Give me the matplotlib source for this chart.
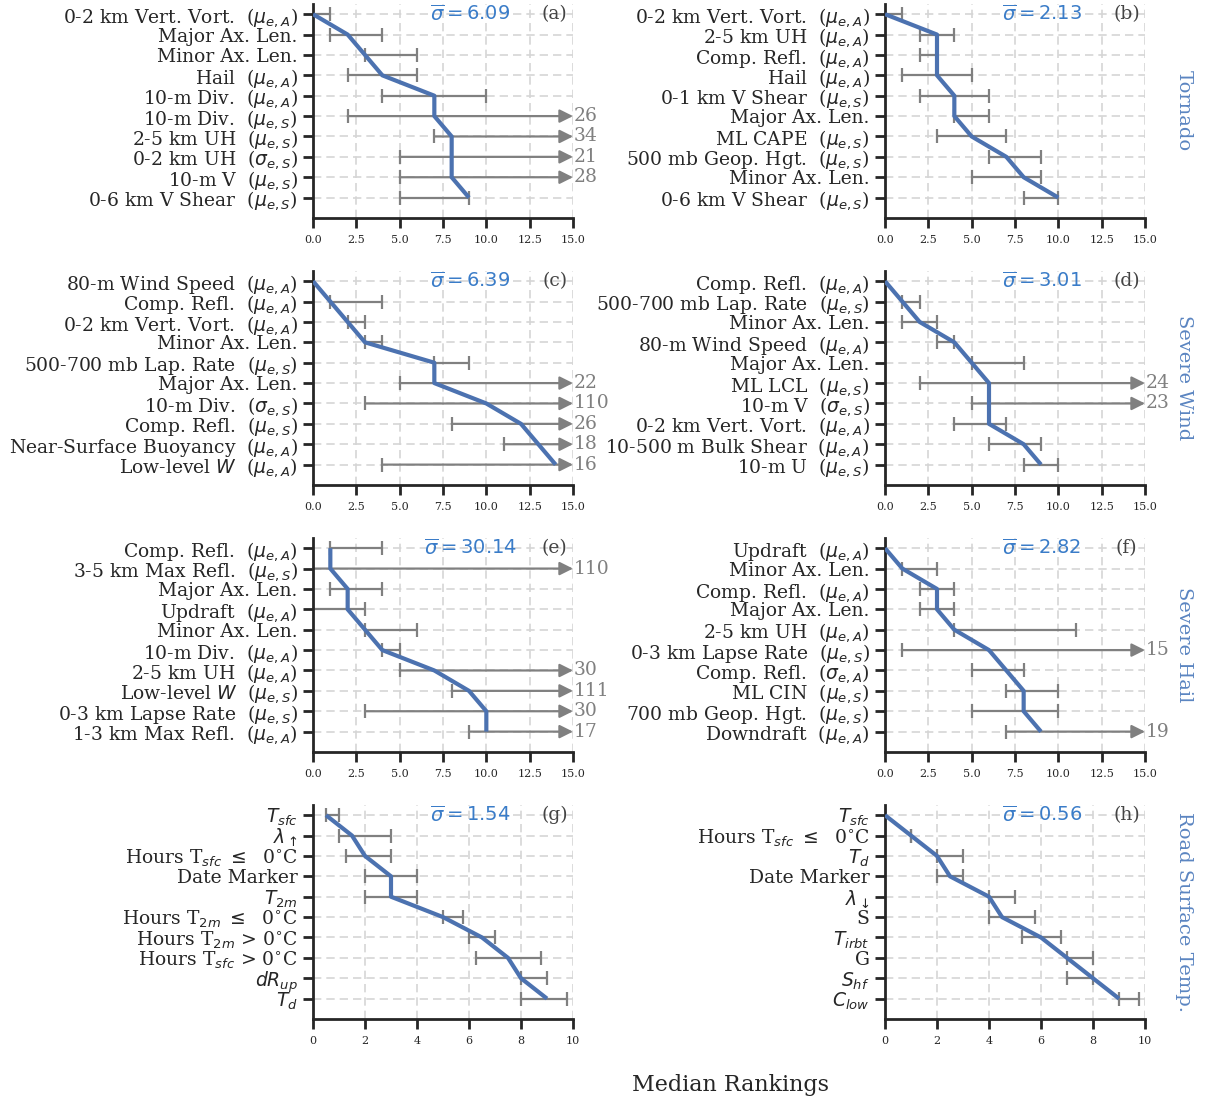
import matplotlib
matplotlib.use('agg')
import matplotlib.pyplot as plt

plt.rcParams['font.family'] = ['DejaVu Serif']
plt.rcParams['mathtext.fontset'] = 'dejavusans'

# suffixes used in the predictor names
MA = r'  ($\mu_{e,A}$)'
MS = r'  ($\mu_{e,S}$)'
SS = r'  ($\sigma_{e,S}$)'
SA = r'  ($\sigma_{e,A}$)'

# (a) tornado, first model
labels_a = ['0-2 km Vert. Vort.' + MA, 'Major Ax. Len.', 'Minor Ax. Len.', 'Hail' + MA,
            '10-m Div.' + MA, '10-m Div.' + MS, '2-5 km UH' + MS, '0-2 km UH' + SS,
            '10-m V' + MS, '0-6 km V Shear' + MS]
med_a = [0, 2, 3, 4, 7, 7, 8, 8, 8, 9]
lo_a = [0, 1, 3, 2, 4, 2, 7, 5, 5, 5]
hi_a = [1, 4, 6, 6, 10, 26, 34, 21, 28, 9]

# (b) tornado, second model
labels_b = ['0-2 km Vert. Vort.' + MA, '2-5 km UH' + MA, 'Comp. Refl.' + MA, 'Hail' + MA,
            '0-1 km V Shear' + MS, 'Major Ax. Len.', 'ML CAPE' + MS, '500 mb Geop. Hgt.' + MS,
            'Minor Ax. Len.', '0-6 km V Shear' + MS]
med_b = [0, 3, 3, 3, 4, 4, 5, 7, 8, 10]
lo_b = [0, 2, 2, 1, 2, 4, 3, 6, 5, 8]
hi_b = [1, 4, 3, 5, 6, 6, 7, 9, 9, 10]

# (c) severe wind, first model
labels_c = ['80-m Wind Speed' + MA, 'Comp. Refl.' + MA, '0-2 km Vert. Vort.' + MA,
            'Minor Ax. Len.', '500-700 mb Lap. Rate' + MS, 'Major Ax. Len.', '10-m Div.' + SS,
            'Comp. Refl.' + MS, 'Near-Surface Buoyancy' + MA, r'Low-level $W$' + MA]
med_c = [0, 1, 2, 3, 7, 7, 10, 12, 13, 14]
lo_c = [0, 1, 2, 3, 7, 5, 3, 8, 11, 4]
hi_c = [0, 4, 3, 4, 9, 22, 110, 26, 18, 16]

# (d) severe wind, second model
labels_d = ['Comp. Refl.' + MA, '500-700 mb Lap. Rate' + MS, 'Minor Ax. Len.',
            '80-m Wind Speed' + MA, 'Major Ax. Len.', 'ML LCL' + MS, '10-m V' + SS,
            '0-2 km Vert. Vort.' + MA, '10-500 m Bulk Shear' + MA, '10-m U' + MS]
med_d = [0, 1, 2, 4, 5, 6, 6, 6, 8, 9]
lo_d = [0, 1, 1, 3, 5, 2, 5, 4, 6, 8]
hi_d = [0, 2, 3, 4, 8, 24, 23, 7, 9, 10]

# (e) severe hail, first model
labels_e = ['Comp. Refl.' + MA, '3-5 km Max Refl.' + MS, 'Major Ax. Len.', 'Updraft' + MA,
            'Minor Ax. Len.', '10-m Div.' + MA, '2-5 km UH' + MA, r'Low-level $W$' + MS,
            '0-3 km Lapse Rate' + MS, '1-3 km Max Refl.' + MA]
med_e = [1, 1, 2, 2, 3, 4, 7, 9, 10, 10]
lo_e = [1, 0, 1, 0, 3, 4, 5, 8, 3, 9]
hi_e = [4, 110, 4, 3, 6, 5, 30, 111, 30, 17]

# (f) severe hail, second model
labels_f = ['Updraft' + MA, 'Minor Ax. Len.', 'Comp. Refl.' + MA, 'Major Ax. Len.',
            '2-5 km UH' + MA, '0-3 km Lapse Rate' + MS, 'Comp. Refl.' + SA, 'ML CIN' + MS,
            '700 mb Geop. Hgt.' + MS, 'Downdraft' + MA]
med_f = [0, 1, 3, 3, 4, 6, 7, 8, 8, 9]
lo_f = [0, 1, 2, 2, 4, 1, 5, 7, 5, 7]
hi_f = [0, 3, 4, 4, 11, 15, 8, 10, 10, 19]

# (g) road surface temperature, first model
labels_g = [r'$T_{sfc}$', r'$\lambda_\uparrow$', r'Hours T$_{sfc}$ $\leq$  0$^{\circ}$C',
            'Date Marker', r'$T_{2m}$', r'Hours T$_{2m}$ $\leq$  0$^{\circ}$C',
            r'Hours T$_{2m}$ > 0$^{\circ}$C', r'Hours T$_{sfc}$ > 0$^{\circ}$C',
            r'$dR_{up}$', r'$T_d$']
med_g = [0.5, 1.5, 2, 3, 3, 5, 6.5, 7.5, 8, 9]
lo_g = [0.5, 1, 1.25, 2, 2, 5, 6, 6.25, 8, 8]
hi_g = [1, 3, 3, 4, 4, 5.75, 7, 8.75, 9, 9.75]

# (h) road surface temperature, second model
labels_h = [r'$T_{sfc}$', r'Hours T$_{sfc}$ $\leq$  0$^{\circ}$C', r'$T_d$', 'Date Marker',
            r'$\lambda_\downarrow$', 'S', r'$T_{irbt}$', 'G', r'$S_{hf}$', r'$C_{low}$']
med_h = [0, 1, 2, 2.5, 4, 4.5, 6, 7, 8, 9]
lo_h = [0, 1, 2, 2, 4, 4, 5.25, 7, 7, 9]
hi_h = [0, 1, 3, 3, 5, 5.75, 6.75, 8, 8, 9.75]

sigma_bar = [6.09, 2.13, 6.39, 3.01, 30.14, 2.82, 1.54, 0.56]
tags = ['(a)', '(b)', '(c)', '(d)', '(e)', '(f)', '(g)', '(h)']
x_max = [15, 15, 15, 15, 15, 15, 10, 10]
hazards = ['Tornado', 'Severe Wind', 'Severe Hail', 'Road Surface Temp.']

panels = [(labels_a, med_a, lo_a, hi_a), (labels_b, med_b, lo_b, hi_b),
          (labels_c, med_c, lo_c, hi_c), (labels_d, med_d, lo_d, hi_d),
          (labels_e, med_e, lo_e, hi_e), (labels_f, med_f, lo_f, hi_f),
          (labels_g, med_g, lo_g, hi_g), (labels_h, med_h, lo_h, hi_h)]

LINE = '#4c72b0'
ERR = '#808080'
DARK = '#262626'


def draw(ax, labels, med, lo, hi, sig, tag, xmax):
    y = list(range(len(labels)))
    ax.set_axisbelow(True)
    ax.grid(True, ls='--', color='#d5d5d5', lw=1.2, dashes=(5, 3))
    for i in y:
        if hi[i] < xmax:
            ax.errorbar(med[i], i, xerr=[[med[i] - lo[i]], [hi[i] - med[i]]], color=ERR,
                        lw=1.6, capsize=5, capthick=1.6, zorder=2)
        else:
            # ranking range reaches the axis end: cap at the low end, arrow to the edge
            ax.plot([lo[i]], [i], marker='|', ms=10, mew=1.6, color=ERR, zorder=2)
            ax.annotate('', xy=(xmax, i), xytext=(lo[i], i), annotation_clip=False,
                        arrowprops=dict(arrowstyle='-|>', color=ERR, lw=1.6,
                                        mutation_scale=20, shrinkA=0, shrinkB=0),
                        zorder=2)
            ax.text(xmax * 1.004, i, str(hi[i]), color=ERR, fontsize=13.5,
                    ha='left', va='center')
    ax.plot(med, y, color=LINE, lw=3, zorder=3, solid_capstyle='butt')

    ax.set_yticks(y)
    ax.set_yticklabels(labels)
    ax.set_xlim(0, xmax)
    ax.set_ylim(10, -0.5)
    if xmax == 15:
        ax.set_xticks([0, 2.5, 5, 7.5, 10, 12.5, 15])
    else:
        ax.set_xticks([0, 2, 4, 6, 8, 10])

    for s in ['top', 'right']:
        ax.spines[s].set_visible(False)
    for s in ['left', 'bottom']:
        ax.spines[s].set_linewidth(2)
        ax.spines[s].set_color(DARK)
    ax.tick_params(axis='y', length=7, width=2, color=DARK, labelsize=13.5,
                   labelcolor=DARK, pad=4)
    ax.tick_params(axis='x', length=7, width=2, color=DARK, labelsize=8,
                   labelcolor=DARK, pad=5)

    ax.text(0.604, 0, r'$\overline{\sigma} = %.2f$' % sig, transform=ax.get_yaxis_transform(),
            color='#3a7cc8', fontsize=14, ha='center', va='center')
    ax.text(0.93, 0, tag, transform=ax.get_yaxis_transform(), color='#444444',
            fontsize=13.5, ha='center', va='center')


fig = plt.figure(figsize=(12.08, 10.99), dpi=100)
lefts = [313 / 1208, 885 / 1208]
bottoms = [1 - 218 / 1099, 1 - 485 / 1099, 1 - 752 / 1099, 1 - 1019 / 1099]
w = 260 / 1208
h = 214 / 1099

for k, (labels, med, lo, hi) in enumerate(panels):
    row, col = divmod(k, 2)
    ax = fig.add_axes([lefts[col], bottoms[row], w, h])
    draw(ax, labels, med, lo, hi, sigma_bar[k], tags[k], x_max[k])
    if col == 1:
        ax.text(1.15, 0.5, hazards[row], transform=ax.transAxes, rotation=270,
                ha='center', va='center', color='#5b85c1', fontsize=14)

fig.text(730 / 1208, 1 - 1085 / 1099, 'Median Rankings', ha='center', va='center',
         fontsize=16, color=DARK)

plt.savefig('out.png', dpi=100)
